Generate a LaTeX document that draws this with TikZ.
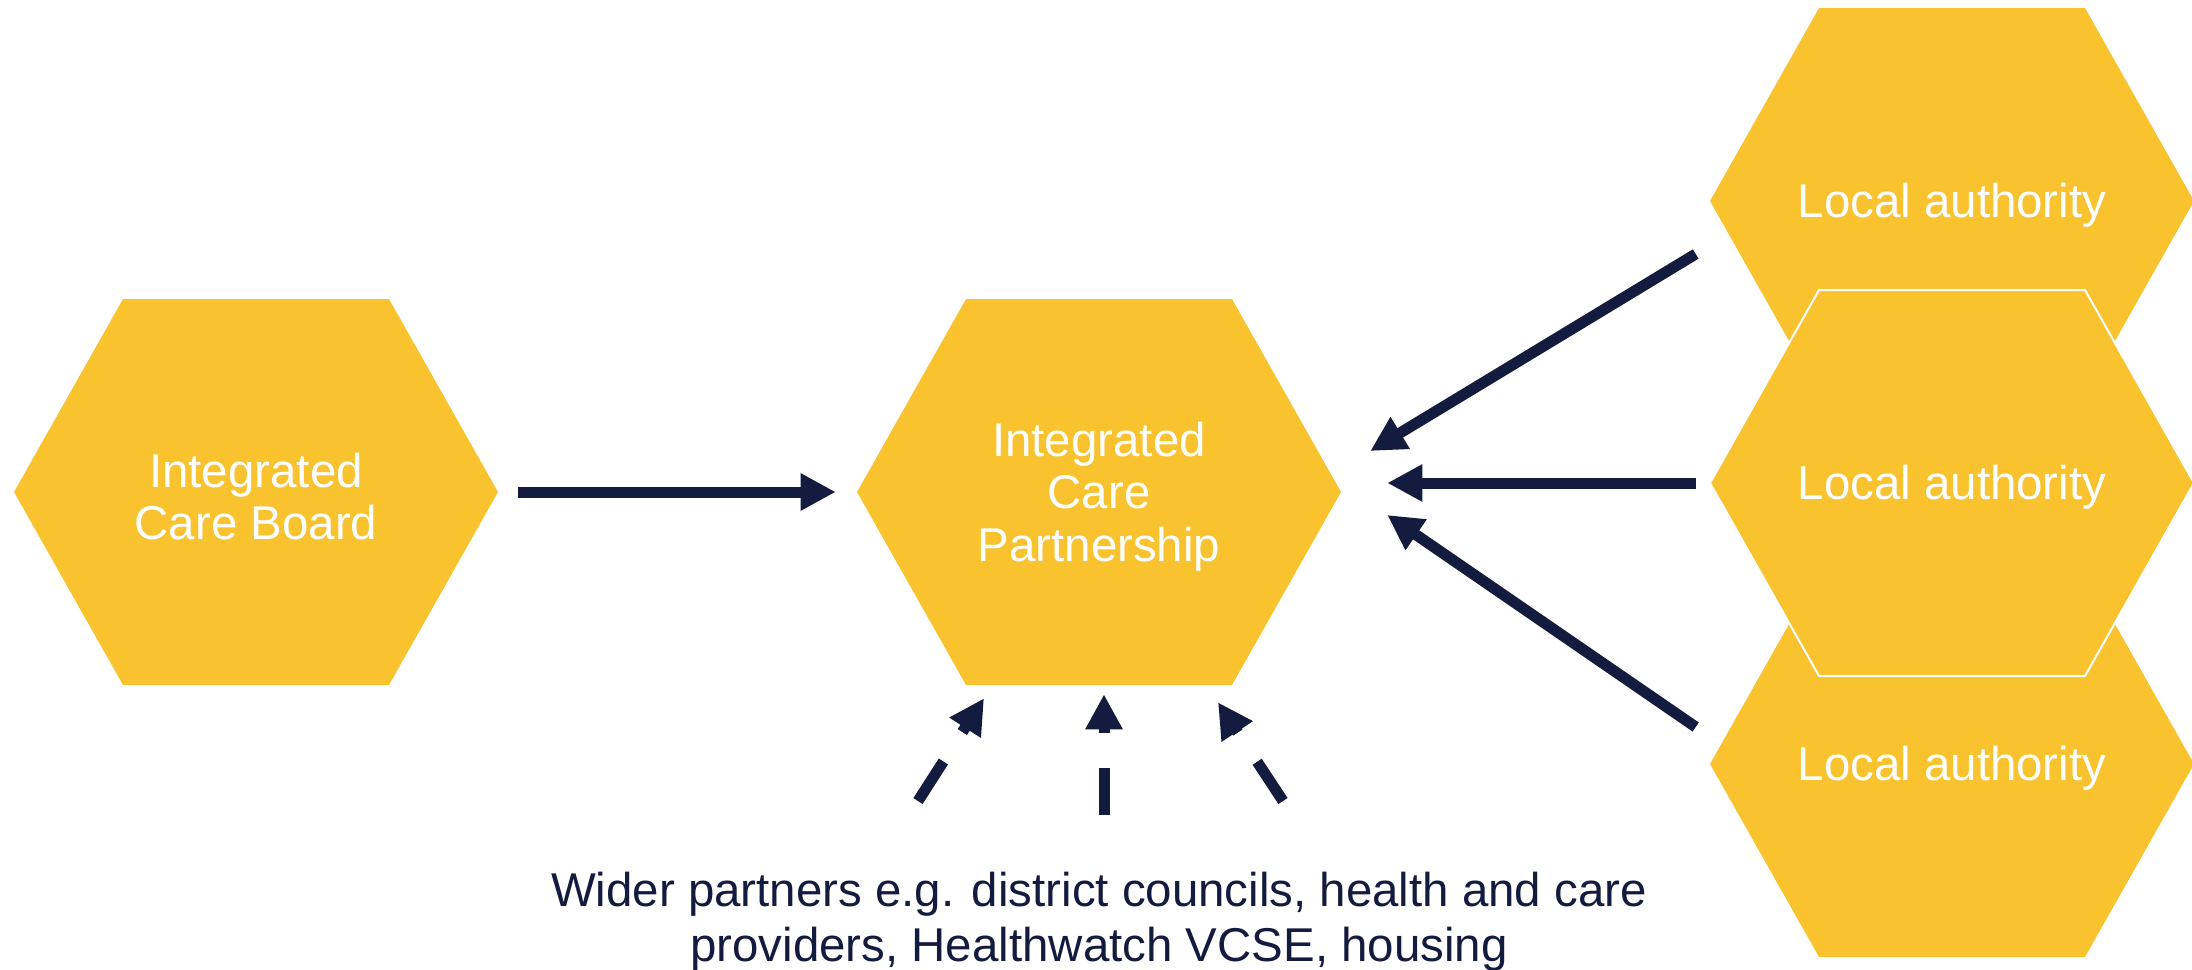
\documentclass[tikz,border=0pt]{standalone}
\usepackage{fontspec}
\setmainfont{Liberation Sans}
\usetikzlibrary{arrows.meta}
\definecolor{icsYellow}{HTML}{F9C32F}
\definecolor{icsNavy}{HTML}{131B3E}

\begin{document}
\begin{tikzpicture}[x=0.02cm,y=-0.02cm,>={Triangle[length=0.7cm,width=0.7cm]}]
		\tikzstyle{HEX} = [minimum width=9.68cm, minimum height=7.72cm, inner sep=0pt]
		\tikzstyle{label} = [inner sep=0pt, align=center, text=white, font=\fontsize{27}{30}\selectfont, yshift=-0.09cm]
		\tikzstyle{note} = [inner sep=0pt, align=center, text=icsNavy, font=\fontsize{27}{31.5}\selectfont]
		\tikzstyle{link} = [->, line width=0.22cm, draw=icsNavy]
		\tikzstyle{dashlink} = [link, dash pattern=on 0.94cm off 0.7cm]
		\tikzset{pics/hexa/.style={code={
					\path[fill=icsYellow, #1] (-242,0) -- (-133,-193) -- (133,-193) -- (242,0) -- (133,193) -- (-133,193) -- cycle;
				}
			},
			pics/hexa/.default={}
		}

		\useasboundingbox (0,0) rectangle (2192,970);

		% hexagons
		\pic at (256,492) {hexa};
		\pic at (1099,492) {hexa};
		\pic at (1952,201) {hexa};
		\pic at (1952,764) {hexa};
		\pic at (1952,483) {hexa={draw=white, line width=0.04cm}};

		\node[HEX] (icb) at 		(256, 492) {};
		\node[HEX] (icp) at 		(1099, 492) {};
		\node[HEX] (laOne) at 		(1952, 201) {};
		\node[HEX] (laTwo) at 		(1952, 483) {};
		\node[HEX] (laThree) at 	(1952, 764) {};
		\node[label] (icbText) at (icb) {Integrated\\Care Board};
		\node[label] (icpText) at (icp) {Integrated\\Care\\Partnership};
		\node[label] (laOneText) at (laOne) {Local authority};
		\node[label] (laTwoText) at (laTwo) {Local authority};
		\node[label] (laThreeText) at (laThree) {Local authority};
		\node[note] (wp) at 		(1099, 922) {Wider partners e.g. district councils, health and care\\providers, Healthwatch VCSE, housing};

		\draw[link] ([shift={(20,0)}]icb.east) -- ([shift={(-21,0)}]icp.west);

		\draw[link] ([shift={(-14,53)}]laOne.west) -- ([shift={(29,-41)}]icp.east);
		\draw[link] ([shift={(-14,0)}]laTwo.west) -- ([shift={(46,-9)}]icp.east);
		\draw[link] ([shift={(-14,-37)}]laThree.west) -- ([shift={(46,23)}]icp.east);

		% wider partners
		\draw[dashlink] ([shift={(-181,-121)}]wp.center) -- ([shift={(-115,13)}]icp.south);
		\draw[dashlink] ([shift={(5,-107)}]wp.center) -- ([shift={(5,9)}]icp.south);
		\draw[dashlink] ([shift={(184,-121)}]wp.center) -- ([shift={(119,17)}]icp.south);

\end{tikzpicture}
\end{document}
